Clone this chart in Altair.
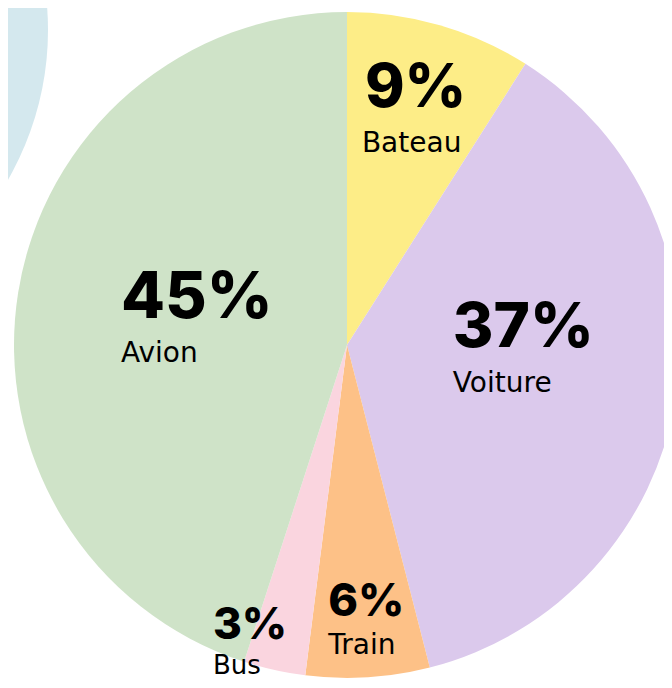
import math
import altair as alt
import pandas as pd

# ---- data ----
categories = ["Bateau", "Voiture", "Train", "Bus", "Avion"]
shares = [9, 37, 6, 3, 45]
pct_labels = ["9%", "37%", "6%", "3%", "45%"]
colors = ["#FDED87", "#DBC9EC", "#FDC187", "#FAD5DF", "#CFE3C8"]

df = pd.DataFrame({
    "cat": categories,
    "value": shares,
    "pct": pct_labels,
    "order": list(range(len(categories))),
})

# ---- layout / style ----
CX, CY, R = 339, 337, 333
FONT = "Inter"
NAME_FONT = "DejaVu Sans"

label_style = {
    "Bateau":  dict(r=247, size=60, dx=-51, dy=-1,  ndx=-54, ndy=44, nsize=28),
    "Voiture": dict(r=173, size=62, dx=-65, dy=-25, ndx=-65, ndy=20, nsize=28),
    "Train":   dict(r=275, size=45, dx=-36, dy=-3,  ndx=-36, ndy=35, nsize=28),
    "Bus":     dict(r=321, size=44, dx=-64, dy=-19, ndx=-64, ndy=16, nsize=26),
    "Avion":   dict(r=156, size=64, dx=-72, dy=-3,  ndx=-72, ndy=41, nsize=28),
}

deco = alt.Chart(pd.DataFrame({"k": [0]})).mark_arc(
    radius=300, theta=0, theta2=2 * math.pi, color="#D4E8EE"
).encode(x=alt.value(-260), y=alt.value(22))

base = alt.Chart(df)

pie = base.mark_arc(radius=R).encode(
    theta=alt.Theta("value:Q", stack=True),
    order=alt.Order("order:Q"),
    color=alt.Color("cat:N", scale=alt.Scale(domain=categories, range=colors), legend=None),
    x=alt.value(CX),
    y=alt.value(CY),
)

lbl = base.transform_window(
    cum="sum(value)", sort=[alt.SortField("order")], frame=[None, 0]
).transform_joinaggregate(
    total="sum(value)"
).transform_calculate(
    mid="(datum.cum - datum.value / 2) / datum.total * 2 * PI"
)

layers = [deco, pie]
for cat in categories:
    s = label_style[cat]
    sub = lbl.transform_filter(alt.datum.cat == cat)
    layers.append(
        sub.mark_text(
            radius=s["r"], align="left", baseline="alphabetic", dx=s["dx"], dy=s["dy"],
            font=FONT, fontSize=s["size"], fontWeight=800, color="#000000",
        ).encode(theta=alt.Theta("mid:Q", scale=None), text="pct:N",
                 x=alt.value(CX), y=alt.value(CY))
    )
    layers.append(
        sub.mark_text(
            radius=s["r"], align="left", baseline="alphabetic", dx=s["ndx"], dy=s["ndy"],
            font=NAME_FONT, fontSize=s["nsize"], fontWeight=400, color="#000000",
        ).encode(theta=alt.Theta("mid:Q", scale=None), text="cat:N",
                 x=alt.value(CX), y=alt.value(CY))
    )

chart = alt.layer(*layers).properties(
    width=656, height=672, padding=0, background="white",
    autosize=alt.AutoSizeParams(type="none"),
).configure_view(stroke=None)

chart.save("out.html", embed_options={"renderer": "svg", "actions": False})
